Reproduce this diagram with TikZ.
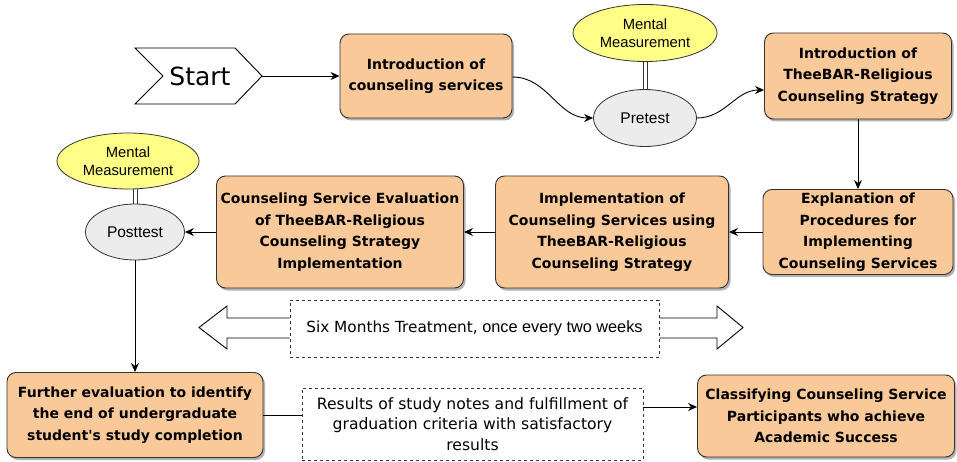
\documentclass[tikz,border=0pt]{standalone}
\usepackage{fontspec}
\usetikzlibrary{arrows.meta,shadows,calc,shapes.geometric}
\newfontfamily\dejav{DejaVu Sans}
\newfontfamily\arial{Liberation Sans}
\definecolor{peach}{RGB}{250,201,153}
\definecolor{yel}{RGB}{255,255,136}
\definecolor{lgray}{RGB}{236,236,236}
\definecolor{bord}{RGB}{50,50,50}
\begin{document}
\begin{tikzpicture}[x=1pt,y=-1pt,
  box/.style={draw=bord, line width=0.9pt, fill=peach, rounded corners=9pt,
    drop shadow={shadow xshift=2pt,shadow yshift=-2.5pt,fill=black,opacity=0.3},
    align=center, inner sep=0pt,
    font=\dejav\bfseries\fontsize{14}{21.5}\selectfont},
  yell/.style={ellipse, draw=bord, line width=0.8pt, fill=yel, inner sep=0pt, align=center,
    font=\arial\fontsize{14.8}{17.5}\selectfont},
  grel/.style={ellipse, draw=bord, line width=0.8pt, fill=lgray, inner sep=0pt,
    font=\arial\fontsize{15.5}{18}\selectfont},
  dbox/.style={draw=bord, dashed, line width=0.8pt, inner sep=0pt, align=center},
  arr/.style={-{Stealth[length=9pt,width=8pt]}, line width=0.9pt, draw=black},
  ln/.style={line width=0.9pt, draw=black},
  rail/.style={draw=bord, line width=0.8pt}
]
\useasboundingbox (0,0) rectangle (957,462);

% Start chevron
\draw[line width=0.9pt] (135,48) -- (235,48) -- (262,76) -- (235,104) -- (135,104) -- (163,76) -- cycle;
\node[inner sep=0pt, font=\dejav\fontsize{25}{28}\selectfont] (start) at (200,76) {Start};
\coordinate (starttip) at (262,76);

\node[box, minimum width=172pt, minimum height=84pt] (b1) at (426,76)
  {Introduction of\\counseling services};
\node[yell, minimum width=144pt, minimum height=57pt] (mm1) at (645,33)
  {Mental\\Measurement};
\node[grel, minimum width=103pt, minimum height=57pt] (pre) at (645,118) {Pretest};
\node[box, minimum width=187pt, minimum height=86pt] (b2) at (858,76)
  {Introduction of\\TheeBAR-Religious\\Counseling Strategy};
\node[box, minimum width=190pt, minimum height=85pt] (b3) at (858,232)
  {Explanation of\\Procedures for\\Implementing\\Counseling Services};
\node[box, minimum width=233pt, minimum height=112pt] (b4) at (612,232)
  {Implementation of\\Counseling Services using\\TheeBAR-Religious\\Counseling Strategy};
\node[box, minimum width=247pt, minimum height=112pt] (b5) at (340,232)
  {Counseling Service Evaluation\\of TheeBAR-Religious\\Counseling Strategy\\Implementation};
\node[grel, minimum width=99pt, minimum height=56pt] (post) at (135,232) {Posttest};
\node[yell, minimum width=142pt, minimum height=56pt] (mm2) at (128,161)
  {Mental\\Measurement};
\node[box, minimum width=256pt, minimum height=85pt] (b6) at (135,415)
  {Further evaluation to identify\\the end of undergraduate\\student's study completion};
\node[box, minimum width=257pt, minimum height=82pt] (b7) at (826,416)
  {Classifying Counseling Service\\Participants who achieve\\Academic Success};

\node[dbox, minimum width=369pt, minimum height=57pt] (d1) at (474.5,328.5)
  {{\dejav\fontsize{15.3}{18}\selectfont Six Months Treatment,}{\arial\fontsize{16.3}{18}\selectfont{} once every two weeks}};
\node[dbox, minimum width=341pt, minimum height=72pt,
  font=\dejav\fontsize{15.6}{20.5}\selectfont] (d2) at (472.5,424)
  {Results of study notes and fulfillment of\\graduation criteria with satisfactory\\results};

% block arrows
\draw[line width=0.9pt] (d1.west |- 0,318) -- (227,318) -- (227,306) -- (199,327.5) -- (227,349) -- (227,338) -- (d1.west |- 0,338);
\draw[line width=0.9pt] (d1.east |- 0,318) -- (717,318) -- (717,306) -- (743,327.5) -- (717,349) -- (717,338) -- (d1.east |- 0,338);

% double rails
\draw[rail] ([xshift=-2pt]mm1.south) -- ([xshift=-2pt]pre.north);
\draw[rail] ([xshift=2pt]mm1.south) -- ([xshift=2pt]pre.north);
\draw[rail] ([xshift=-2pt]mm2.south -| post.north) -- ([xshift=-2pt]post.north);
\draw[rail] ([xshift=2pt]mm2.south -| post.north) -- ([xshift=2pt]post.north);

% connectors
\draw[arr] (starttip) -- (b1.west);
\draw[arr] ([yshift=-1pt]b1.east) to[out=0,in=180,looseness=1] (pre.west);
\draw[arr] (pre.east) to[out=0,in=180,looseness=1] ([yshift=-14pt]b2.west);
\draw[arr] (b2.south) -- (b3.north);
\draw[arr] (b3.west) -- (b4.east);
\draw[arr] (b4.west) -- (b5.east);
\draw[arr] (b5.west) -- (post.east);
\draw[arr] (post.south) -- (b6.north);
\draw[ln] (b6.east) -- (b6.east -| d2.west);
\path (d2.east |- b7.west) ++(0,-9) coordinate (dd);
\draw[arr] (dd) -- (dd -| b7.west);
\end{tikzpicture}
\end{document}
